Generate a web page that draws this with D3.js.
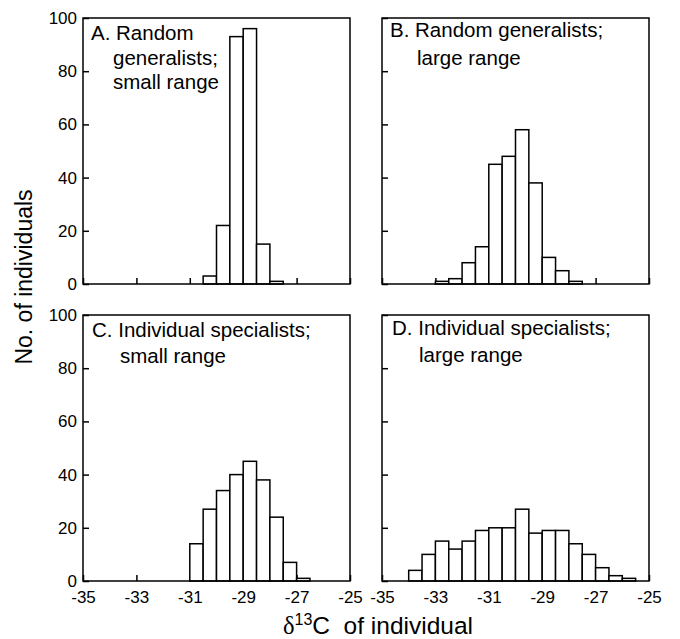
<!DOCTYPE html>
<html>
<head>
<meta charset="utf-8">
<script src="https://cdn.jsdelivr.net/npm/d3@7"></script>
<style>
  body { margin: 0; background: #fff; }
  svg text { font-family: "Liberation Sans", Arial, sans-serif; fill: #000; }
</style>
</head>
<body>
<div id="chart"></div>
<script>
// histogram counts, one per 0.5 permil bin, starting at binStart
var binWidth = 0.5;
var startA = -30.5;
var countsA = [3, 22, 93, 96, 15, 1];
var startB = -33;
var countsB = [1, 2, 8, 14, 45, 48, 58, 38, 10, 5, 1];
var startC = -31;
var countsC = [14, 27, 34, 40, 45, 38, 24, 7, 1];
var startD = -34;
var countsD = [4, 10, 15, 12, 15, 19, 20, 20, 27, 18, 19, 19, 14, 10, 5, 2, 1];

var xTicks = [-35, -33, -31, -29, -27, -25];
var yTicks = [0, 20, 40, 60, 80, 100];
var titlesA = ['A. Random', 'generalists;', 'small range'];
var titlesB = ['B. Random generalists;', 'large range'];
var titlesC = ['C. Individual specialists;', 'small range'];
var titlesD = ['D. Individual specialists;', 'large range'];

var W = 680, H = 639;
var pw = 267, ph = 266;

var svg = d3.select('#chart').append('svg')
  .attr('width', W)
  .attr('height', H);

var xScale = d3.scaleLinear().domain([-35, -25]).range([0, pw]);
var yScale = d3.scaleLinear().domain([0, 100]).range([ph, 0]);

//panel positions and options
var panels = [
  {x: 83, y: 18, start: startA, counts: countsA, titles: titlesA, yLab: true, xLab: false, tx: [8, 30, 30], ty: [22, 47, 71]},
  {x: 382, y: 18, start: startB, counts: countsB, titles: titlesB, yLab: false, xLab: false, tx: [8, 35], ty: [19, 47]},
  {x: 83, y: 315, start: startC, counts: countsC, titles: titlesC, yLab: true, xLab: true, tx: [9, 37], ty: [22, 48]},
  {x: 382, y: 315, start: startD, counts: countsD, titles: titlesD, yLab: false, xLab: true, tx: [10, 37], ty: [20, 47]}
];

panels.forEach(function(p) {
  var g = svg.append('g').attr('transform', 'translate(' + p.x + ',' + p.y + ')');

  var yAxis = d3.axisLeft(yScale).tickValues(yTicks).tickSize(-6).tickPadding(6)
    .tickFormat(function(d) { return p.yLab ? String(d) : ''; });
  g.append('g').call(yAxis);

  // plain hyphen for the minus sign, as in the original
  var xAxis = d3.axisBottom(xScale).tickValues(xTicks).tickSize(-6).tickPadding(10)
    .tickFormat(function(d) { return p.xLab ? String(d) : ''; });
  g.append('g').attr('transform', 'translate(0,' + ph + ')').call(xAxis);

  g.selectAll('.domain').remove();
  g.selectAll('.tick line').attr('stroke', '#000').attr('stroke-width', 1.5);
  g.selectAll('.tick text').style('font-size', '17px')
    .style('font-family', '"Liberation Sans", Arial, sans-serif');

  // bars
  g.selectAll('rect.bar')
    .data(p.counts)
    .enter()
    .append('rect')
    .attr('class', 'bar')
    .attr('x', function(d, i) { return xScale(p.start + i * binWidth); })
    .attr('y', function(d) { return yScale(d); })
    .attr('width', function(d, i) { return xScale(p.start + (i + 1) * binWidth) - xScale(p.start + i * binWidth); })
    .attr('height', function(d) { return ph - yScale(d); })
    .attr('fill', '#fff')
    .attr('stroke', '#000')
    .attr('stroke-width', 1.5);

  // frame
  g.append('rect')
    .attr('width', pw)
    .attr('height', ph)
    .attr('fill', 'none')
    .attr('stroke', '#000')
    .attr('stroke-width', 1.5);

  // panel title
  p.titles.forEach(function(t, i) {
    g.append('text')
      .attr('x', p.tx[i])
      .attr('y', p.ty[i])
      .style('font-size', '20.5px')
      .text(t);
  });
});

// axis titles
svg.append('text')
  .attr('transform', 'translate(32,277) rotate(-90)')
  .attr('text-anchor', 'middle')
  .style('font-size', '23px')
  .text('No. of individuals');

var xt = svg.append('text')
  .attr('x', 378)
  .attr('y', 634)
  .attr('text-anchor', 'middle')
  .style('font-size', '24.5px');
xt.append('tspan').style('font-family', '"Liberation Serif", "Times New Roman", serif').text('δ');
xt.append('tspan').attr('dy', -9).style('font-size', '16px').text('13');
xt.append('tspan').attr('dy', 9).text('C\u00a0 of individual');
</script>
</body>
</html>
